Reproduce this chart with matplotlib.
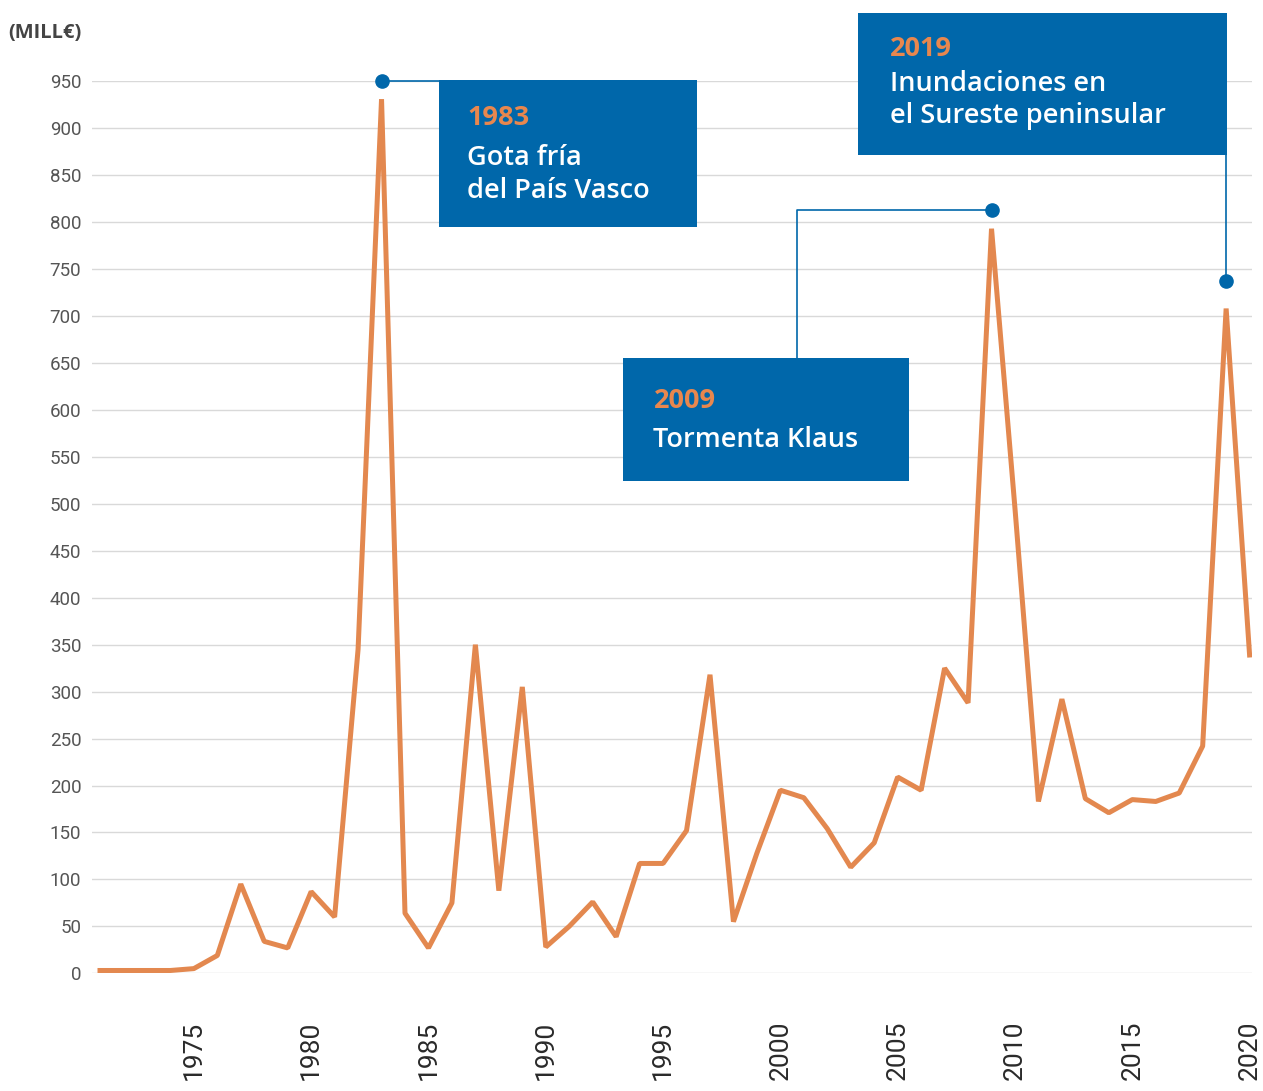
import matplotlib.pyplot as plt
from matplotlib.patches import Rectangle

years = list(range(1971, 2021))
values = [3, 3, 3, 3, 5, 19, 95, 34, 27, 87,
          60, 345, 931, 64, 27, 75, 350, 88, 305, 28,
          50, 76, 39, 117, 117, 152, 318, 55, 128, 195,
          187, 154, 113, 139, 209, 195, 325, 288, 793, 495,
          183, 292, 186, 171, 185, 183, 192, 242, 708, 339]

xticks = [1975, 1980, 1985, 1990, 1995, 2000, 2005, 2010, 2015, 2020]
yticks = list(range(0, 1000, 50))

# annotated events: year, dot value, title, text
events = [
    (1983, 950, "1983", "Gota fría\ndel País Vasco"),
    (2009, 813, "2009", "Tormenta Klaus"),
    (2019, 737, "2019", "Inundaciones en\nel Sureste peninsular"),
]

orange = "#E3884F"
blue = "#0067AA"

fig = plt.figure(figsize=(12.63, 10.91), dpi=100)
W, H = 1263, 1091
ax = fig.add_axes([91.7 / W, 1 - 973.3 / H, (1251.7 - 91.7) / W, (973.3 - 81.3) / H])

ax.plot(years, values, color=orange, lw=3.6, solid_joinstyle="bevel", zorder=3)
ax.set_xlim(1970.646, 2020.09)
ax.set_ylim(0, 950)

ax.set_yticks(yticks)
ax.set_xticks(xticks)
ax.set_xticklabels([str(t) for t in xticks], rotation=90, fontsize=19,
                   family="Roboto", color="#2a2a2a")
ax.set_yticklabels([str(t) for t in yticks], fontsize=13.5,
                   family="Roboto", color="#555555")
ax.tick_params(axis="x", length=0, pad=34)
ax.tick_params(axis="y", length=0, pad=7.5)
ax.grid(axis="y", color="#d9d9d9", lw=1.0)
ax.set_axisbelow(True)
for s in ax.spines.values():
    s.set_visible(False)

fig.text(8 / W, 1 - 33 / H, "(MILL€)", fontsize=14.5, fontweight="bold",
         family="Open Sans", color="#444444", va="center")

# dots
for yr, v, t, txt in events:
    ax.plot(yr, v, "o", color=blue, ms=9.5, clip_on=False, zorder=5)

# boxes: (x0, x1, y0, y1) in data units
boxes = [
    (1985.45, 1996.45, 795.1, 951.7),
    (1993.30, 2005.50, 524.5, 655.5),
    (2003.32, 2019.05, 871.8, 1023.2),
]
for x0, x1, y0, y1 in boxes:
    ax.add_patch(Rectangle((x0, y0), x1 - x0, y1 - y0, facecolor=blue,
                           edgecolor="none", clip_on=False, zorder=4))

# connectors
ax.plot([1983, 1985.45], [950, 950], color=blue, lw=1.2, clip_on=False, zorder=4)
ax.plot([2009, 2000.72, 2000.72], [813, 813, 655.5], color=blue, lw=1.2,
        clip_on=False, zorder=4)
ax.plot([2019, 2019], [737, 871.8], color=blue, lw=1.2, clip_on=False, zorder=4)

# texts: x, title baseline, line baselines
text_pos = [
    (1986.65, 903.8, [860.9, 825.7]),
    (1994.59, 602.0, [560.7]),
    (2004.68, 977.3, [939.3, 905.6]),
]
for (yr, v, title, txt), (tx, ty, lines) in zip(events, text_pos):
    ax.text(tx, ty, title, color="#E8874E", fontsize=19.5, fontweight="bold",
            family="Open Sans", va="baseline", ha="left", zorder=6, clip_on=False)
    for line, ly in zip(txt.split("\n"), lines):
        ax.text(tx, ly, line, color="white", fontsize=19.5, fontweight="semibold",
                family="Open Sans", va="baseline", ha="left", zorder=6, clip_on=False)

fig.savefig("out.png", dpi=100)
